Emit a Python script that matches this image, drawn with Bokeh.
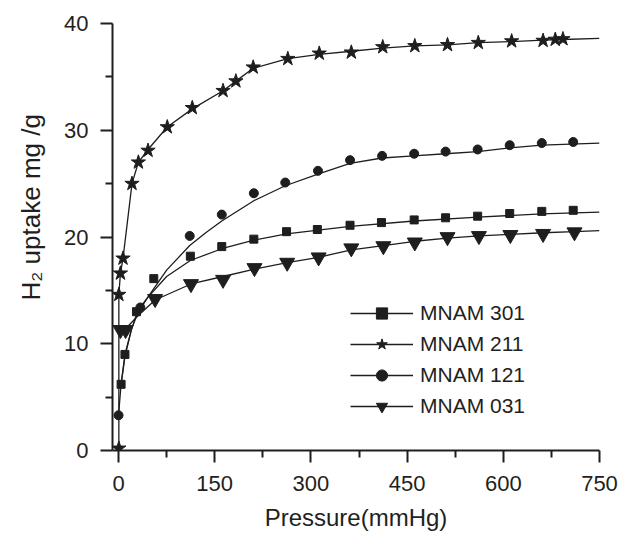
from bokeh.plotting import figure
from bokeh.models import FixedTicker, Legend, LegendItem, Title
from bokeh.embed import file_html
from bokeh.resources import INLINE

# H2 uptake (mg/g) versus pressure (mmHg) for four MNAM samples
# measured points
p301 = [4, 10, 28, 55, 112, 161, 211, 262, 310, 361, 410, 461, 510, 560, 610, 660, 709]
u301 = [6.2, 9.0, 13.0, 16.1, 18.2, 19.1, 19.8, 20.5, 20.7, 21.1, 21.35, 21.6, 21.8, 21.95, 22.2, 22.4, 22.5]

p211 = [0.5, 0.5, 3, 7, 21, 31, 46, 76, 115, 163, 183, 210, 264, 313, 363, 412, 462, 513, 561, 613, 662, 681, 693]
u211 = [0.2, 14.6, 16.6, 18.0, 25.0, 27.0, 28.1, 30.3, 32.1, 33.7, 34.6, 35.9, 36.7, 37.2, 37.3, 37.8, 37.9, 38.0, 38.2, 38.35, 38.4, 38.5, 38.55]

p121 = [0, 34, 111, 161, 211, 260, 311, 361, 411, 461, 510, 560, 610, 660, 709]
u121 = [3.3, 13.4, 20.1, 22.1, 24.1, 25.1, 26.2, 27.2, 27.6, 27.8, 28.0, 28.2, 28.6, 28.8, 28.9]

p031 = [3, 11, 57, 113, 163, 212, 263, 312, 363, 413, 462, 513, 562, 611, 662, 711]
u031 = [11.3, 11.3, 14.2, 15.6, 16.0, 17.1, 17.6, 18.1, 18.95, 19.15, 19.5, 20.0, 20.1, 20.2, 20.3, 20.45]

# fitted isotherm curves
fit301_p = [4, 10, 20, 30, 45, 75, 112, 161, 211, 262, 361, 461, 560, 660, 750]
fit301_u = [6.2, 9.0, 11.3, 12.9, 14.3, 16.3, 17.8, 18.9, 19.7, 20.3, 21.0, 21.5, 21.86, 22.17, 22.33]

fit211_p = [0.5, 0.5, 3, 7, 21, 31, 46, 76, 115, 163, 183, 210, 264, 313, 363, 412, 462, 513, 561, 613, 662, 693, 750]
fit211_u = [0.2, 14.6, 16.6, 18.0, 25.0, 27.0, 28.2, 30.3, 32.0, 33.7, 34.6, 35.8, 36.7, 37.1, 37.4, 37.7, 37.9, 38.0, 38.2, 38.3, 38.45, 38.5, 38.6]

fit121_p = [0, 4, 10, 20, 30, 45, 75, 111, 136, 161, 211, 260, 311, 361, 411, 460, 510, 560, 610, 660, 750]
fit121_u = [3.3, 6.2, 8.8, 11.3, 13.1, 14.3, 16.9, 19.2, 20.4, 21.5, 23.4, 24.8, 25.9, 26.9, 27.4, 27.6, 27.8, 28.0, 28.35, 28.6, 28.8]

fit031_p = [3, 11, 30, 57, 113, 163, 212, 263, 312, 363, 413, 462, 513, 562, 611, 662, 711, 750]
fit031_u = [11.2, 11.4, 12.6, 14.1, 15.6, 16.3, 17.0, 17.6, 18.1, 18.8, 19.2, 19.6, 19.9, 20.1, 20.25, 20.4, 20.5, 20.6]

labels = ["MNAM 301", "MNAM 211", "MNAM 121", "MNAM 031"]

x_ticks = [0, 150, 300, 450, 600, 750]
x_minor = [75, 225, 375, 525, 675]
y_ticks = [0, 10, 20, 30, 40]
y_minor = [5, 15, 25, 35]

INK = "#1e1e1e"
TXT = "#231f20"
FONT = "Liberation Sans"

p = figure(width=620, height=543, output_backend="svg", toolbar_location=None,
           x_range=(-9.4, 750), y_range=(0, 40),
           min_border_left=112, min_border_right=21, min_border_top=23, min_border_bottom=93)
p.outline_line_color = None
p.grid.grid_line_color = None
p.background_fill_color = "white"

series = [
    (fit301_p, fit301_u, p301, u301, "square", 8),
    (fit211_p, fit211_u, p211, u211, "star", 15),
    (fit121_p, fit121_u, p121, u121, "circle", 9),
    (fit031_p, fit031_u, p031, u031, "inverted_triangle", 15),
]

items = []
for (fp, fu, px, py, marker, size), lab in zip(series, labels):
    lr = p.line(fp, fu, line_color=INK, line_width=1.3)
    sr = p.scatter(px, py, marker=marker, size=size, fill_color=INK, line_color=INK)
    items.append(LegendItem(label=lab, renderers=[lr, sr]))

legend = Legend(items=items, location=(238, 30), padding=0, margin=0, spacing=3,
                glyph_width=63, glyph_height=28, label_standoff=7,
                label_text_font=FONT, label_text_font_size="21px", label_text_color=TXT,
                border_line_color=None, background_fill_alpha=0)
p.add_layout(legend)

for ax in (p.xaxis[0], p.yaxis[0]):
    ax.axis_line_width = 2
    ax.axis_line_color = INK
    ax.major_tick_line_width = 2
    ax.major_tick_line_color = INK
    ax.minor_tick_line_width = 2
    ax.minor_tick_line_color = INK
    ax.major_tick_in = 0
    ax.major_tick_out = 12
    ax.minor_tick_in = 0
    ax.minor_tick_out = 7
    ax.major_label_text_font = FONT
    ax.major_label_text_font_size = "22px"
    ax.major_label_text_color = TXT
    ax.axis_label_text_font = FONT
    ax.axis_label_text_font_style = "normal"
    ax.axis_label_text_color = TXT

p.xaxis[0].ticker = FixedTicker(ticks=x_ticks, minor_ticks=x_minor)
p.yaxis[0].ticker = FixedTicker(ticks=y_ticks, minor_ticks=y_minor)
p.xaxis[0].major_label_standoff = 13
p.yaxis[0].major_label_standoff = 12
p.xaxis[0].axis_label = "Pressure(mmHg)"
p.xaxis[0].axis_label_text_font_size = "24px"
p.xaxis[0].axis_label_standoff = 10

# vertical axis title as a side-panel title, shifted up from the bottom of the frame
ytitle = Title(text="H\u2082 uptake mg /g", align="left", offset=150,
               vertical_align="top", standoff=28,
               text_font=FONT, text_font_size="26px", text_font_style="normal",
               text_color=TXT)
p.add_layout(ytitle, "left")

open("out.html", "w").write(file_html(p, INLINE))
